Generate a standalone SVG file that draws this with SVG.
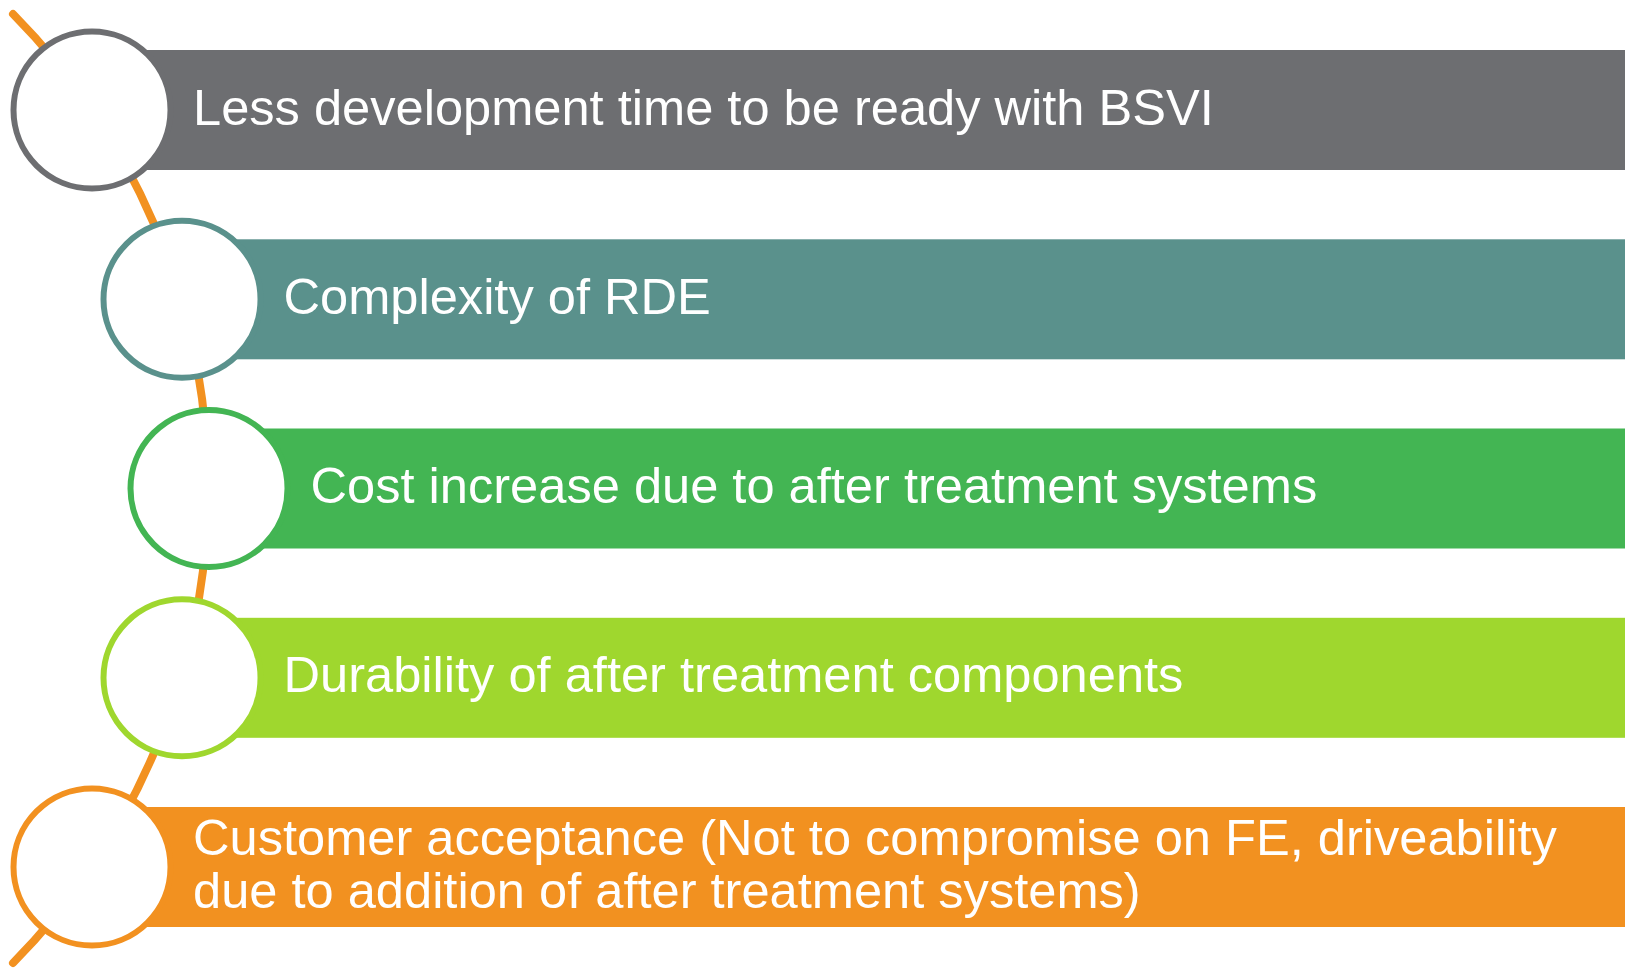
<svg xmlns="http://www.w3.org/2000/svg" width="1630" height="970" viewBox="0 0 1630 970">
<style>
.lbl{font-family:"Liberation Sans",Arial,sans-serif;font-size:50.6px;fill:#ffffff}
.dot{fill:#ffffff;stroke-width:6}
</style>
<rect width="1630" height="970" fill="#ffffff"/>
<g id="connectors">
<path d="M 13 14 A 675 675 0 0 1 13 963" fill="none" stroke="#F29120" stroke-width="8" stroke-linecap="round"/>
</g>
<g id="node1">
<rect x="91" y="50" width="1534" height="120" fill="#6D6E71"/>
<circle class="dot" cx="92" cy="110" r="78.5" stroke="#6D6E71"/>
<text class="lbl" x="193" y="124.5">Less development time to be ready with BSVI</text>
</g>
<g id="node2">
<rect x="181" y="239.3" width="1444" height="120" fill="#5A918C"/>
<circle class="dot" cx="182" cy="299.3" r="78.5" stroke="#5A918C"/>
<text class="lbl" x="283.5" y="313.8">Complexity of RDE</text>
</g>
<g id="node3">
<rect x="208" y="428.5" width="1417" height="120" fill="#43B553"/>
<circle class="dot" cx="209" cy="488.5" r="78.5" stroke="#43B553"/>
<text class="lbl" x="310.5" y="503">Cost increase due to after treatment systems</text>
</g>
<g id="node4">
<rect x="181" y="617.8" width="1444" height="120" fill="#9FD72E"/>
<circle class="dot" cx="182" cy="677.8" r="78.5" stroke="#9FD72E"/>
<text class="lbl" x="283.5" y="692.3">Durability of after treatment components</text>
</g>
<g id="node5">
<rect x="91" y="807" width="1534" height="120" fill="#F29120"/>
<circle class="dot" cx="92" cy="867" r="78.5" stroke="#F29120"/>
<text class="lbl" x="193" y="855">Customer acceptance (Not to compromise on FE, driveability</text>
<text class="lbl" x="193" y="908.3">due to addition of after treatment systems)</text>
</g>
</svg>
